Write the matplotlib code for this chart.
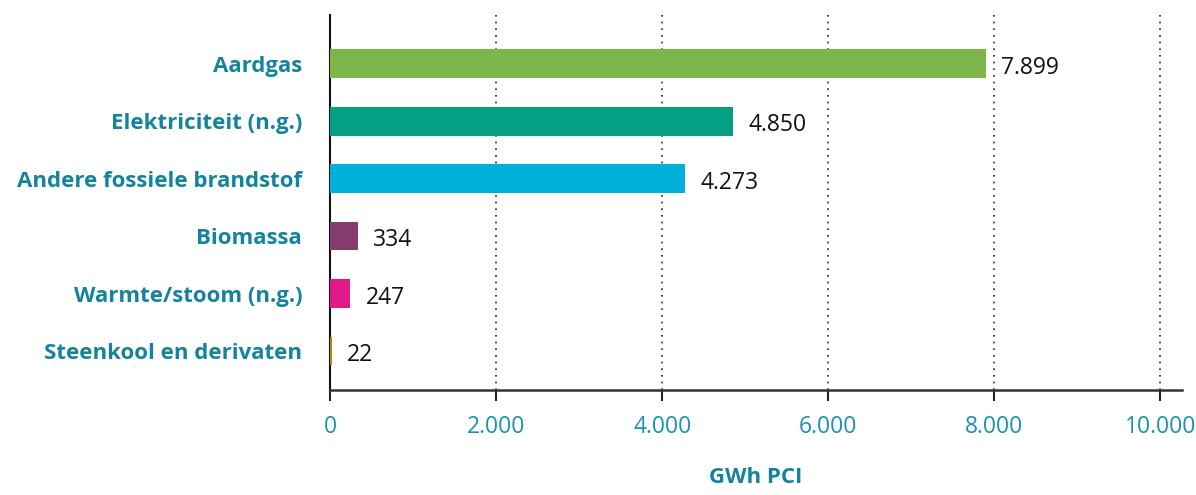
import matplotlib
matplotlib.use("Agg")
import matplotlib.pyplot as plt

# data
categories = ['Aardgas', 'Elektriciteit (n.g.)', 'Andere fossiele brandstof',
              'Biomassa', 'Warmte/stoom (n.g.)', 'Steenkool en derivaten']
values = [7899, 4850, 4273, 334, 247, 22]
value_labels = ['7.899', '4.850', '4.273', '334', '247', '22']
bar_colors = ['#7AB648', '#05A084', '#00B0D8', '#843C6E', '#E0198A', '#B8860B']
x_ticks = [0, 2000, 4000, 6000, 8000, 10000]
x_tick_labels = ['0', '2.000', '4.000', '6.000', '8.000', '10.000']

LABEL_TEAL = '#14849E'
TICK_TEAL = '#1D92AE'

plt.rcParams['font.family'] = ['Open Sans', 'DejaVu Sans']

fig = plt.figure(figsize=(11.96, 4.95), dpi=100)
ax = fig.add_axes([0.2759, 0.2121, 0.7124, 0.7576])

pos = list(range(len(categories)))
ax.barh(pos, values, height=0.5, color=bar_colors, zorder=3)

for p, v, lab in zip(pos, values, value_labels):
    ax.annotate(lab, xy=(v, p), xytext=(11, -3), textcoords='offset points',
                ha='left', va='center', fontsize=16.5, color='#111111')

ax.set_yticks(pos)
ax.set_yticklabels(categories, fontsize=16, fontweight='bold', color=LABEL_TEAL)
ax.set_ylim(5.68, -0.85)
ax.set_xlim(0, 10260)
ax.set_xticks(x_ticks)
ax.set_xticklabels(x_tick_labels, fontsize=16.5, color=TICK_TEAL)

ax.tick_params(axis='y', length=0, pad=20)
ax.tick_params(axis='x', length=8, width=1.5, color='#222222', pad=10, direction='out')

# dotted gridlines (not at 0)
for t in x_ticks[1:]:
    ax.axvline(t, color='#222222', linestyle=(0, (1, 3)), lw=1.2, zorder=1)

for s in ['top', 'right']:
    ax.spines[s].set_visible(False)
ax.spines['left'].set_color('#111111')
ax.spines['left'].set_linewidth(1.5)
ax.spines['bottom'].set_color('#333333')
ax.spines['bottom'].set_linewidth(1.8)

ax.set_xlabel('GWh PCI', fontsize=16, fontweight='bold', color=LABEL_TEAL, labelpad=20)

fig.savefig('out.png', dpi=100)
